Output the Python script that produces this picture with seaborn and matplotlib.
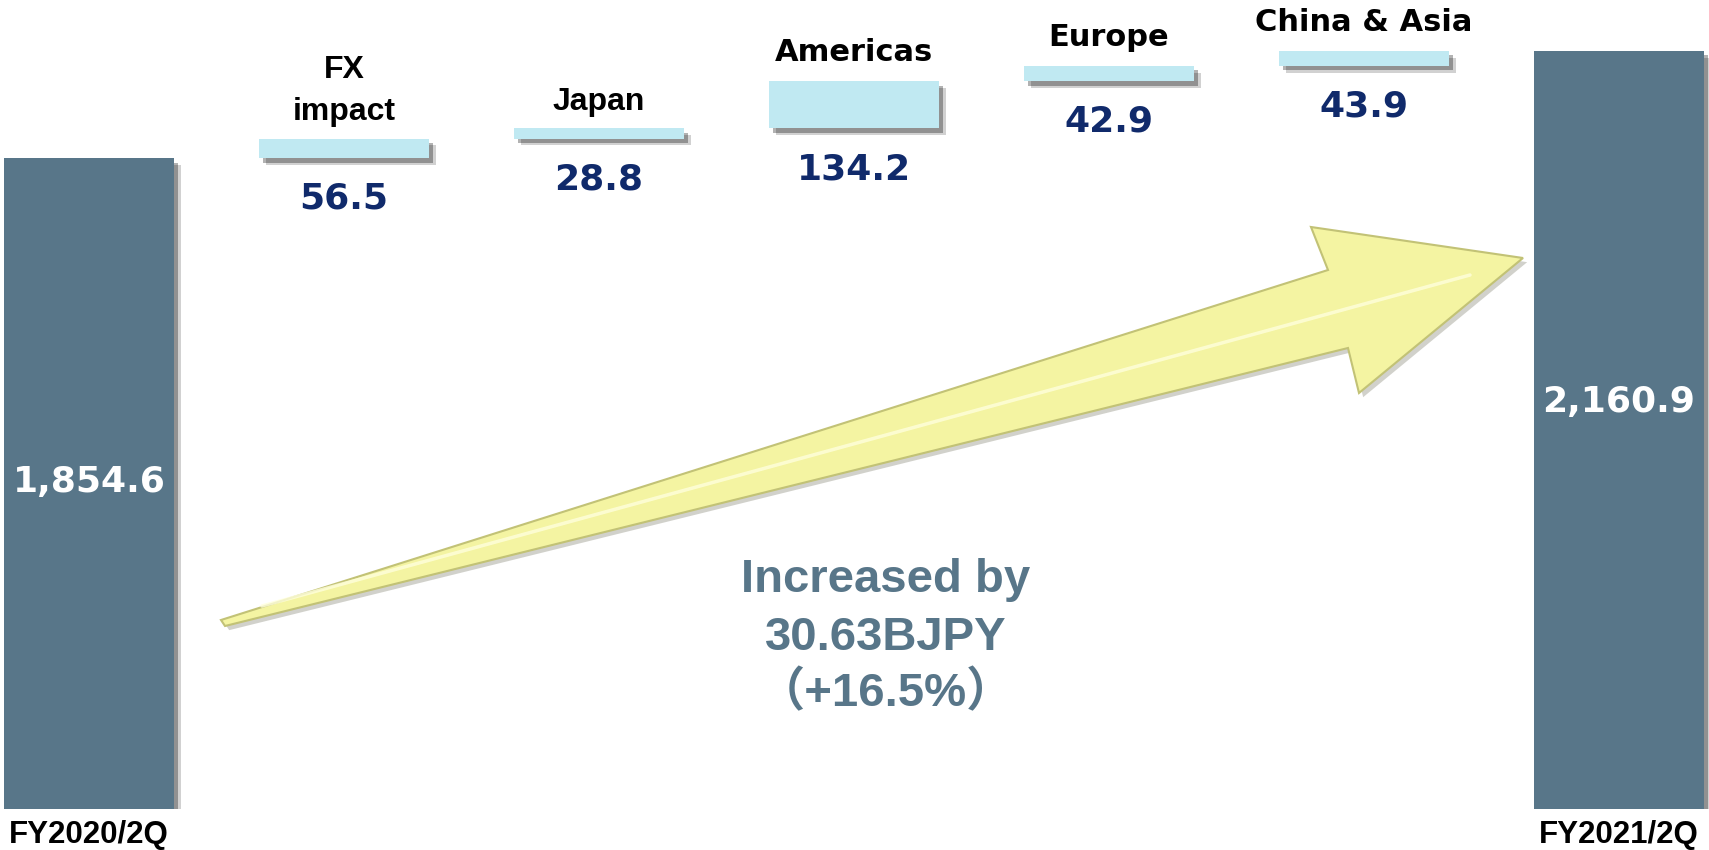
import numpy as np
import pandas as pd
import matplotlib
matplotlib.use("Agg")
import matplotlib.pyplot as plt
import matplotlib.patheffects as pe
from matplotlib.patches import Polygon
import seaborn as sns

# values in 100M JPY
periods = ["FY2020/2Q", "FY2021/2Q"]
period_values = [1854.6, 2160.9]
drivers = ["FX\nimpact", "Japan", "Americas", "Europe", "China & Asia"]
driver_values = [56.5, 28.8, 134.2, 42.9, 43.9]
note_lines = ["Increased by", "30.63BJPY", "（+16.5%）"]

order = [periods[0]] + drivers + [periods[1]]
starts = period_values[0] + np.concatenate([[0], np.cumsum(driver_values)[:-1]])

totals = pd.DataFrame({"item": periods, "value": period_values})
steps = pd.DataFrame({"item": drivers, "value": driver_values, "start": starts})

# styling / layout
c_total = "#587689"
c_step = "#C0E9F2"
c_num = "#102A6B"
label_fonts = ["Liberation Sans", "Liberation Sans", "DejaVu Sans", "DejaVu Sans", "DejaVu Sans"]
label_sizes = [23, 23, 22, 22, 22]
label_gap = [8, 8, 10, 10, 10]
total_label_pos = [0.503, 0.537]   # fraction of bar height for the white number
W, H = 1709, 850

sns.set_theme(style="white")
plt.rcParams["font.family"] = ["DejaVu Sans"]

fig = plt.figure(figsize=(W / 100, H / 100), dpi=100)
ax = fig.add_axes([0, 41 / H, 1, 809 / H])

sns.barplot(data=totals, x="item", y="value", order=order, color=c_total,
            saturation=1, width=0.667, errorbar=None, linewidth=0, ax=ax)
sns.barplot(data=steps, x="item", y="value", order=order, color=c_step,
            saturation=1, width=0.667, errorbar=None, linewidth=0,
            bottom=steps["start"].values, ax=ax)

shadow = [pe.SimplePatchShadow(offset=(5, -5), shadow_rgbFace="black", alpha=0.18),
          pe.SimplePatchShadow(offset=(3, -3), shadow_rgbFace="black", alpha=0.3),
          pe.Normal()]
for p in ax.patches:
    p.set_path_effects(shadow)

# driver labels
for i, (name, v, s) in enumerate(zip(drivers, driver_values, starts)):
    x = order.index(name)
    ax.annotate(name, (x, s + v), xytext=(0, label_gap[i]), textcoords="offset points",
                ha="center", va="bottom", fontsize=label_sizes[i], family=label_fonts[i],
                weight="bold", color="black", linespacing=1.55)
    ax.annotate(f"{v:.1f}", (x, s), xytext=(0, -17), textcoords="offset points",
                ha="center", va="top", fontsize=26, weight="bold", color=c_num)

# totals
for name, v, f in zip(periods, period_values, total_label_pos):
    ax.text(order.index(name), v * f, f"{v:,.1f}", ha="center", va="center",
            color="white", fontsize=26, weight="bold")

ax.set_xlim(-0.349, 6.353)
ax.set_ylim(0, 2306)
ax.set_xticks([0, 6])
ax.set_xticklabels(periods, fontsize=22.5, family="Liberation Sans", weight="bold", color="black")
ax.tick_params(axis="x", length=0, pad=8)
ax.set_yticks([])
ax.set_xlabel("")
ax.set_ylabel("")
for sp in ax.spines.values():
    sp.set_visible(False)

# yellow arrow (decoration, figure pixels)
arrow_px = [(221, 620), (1328, 270), (1311, 227), (1523, 258), (1359, 393), (1348, 348), (225, 626)]
arrow = Polygon([(x / W, 1 - y / H) for x, y in arrow_px], closed=True,
                transform=fig.transFigure, facecolor="#F4F4A2", edgecolor="#C2C276", lw=1.5,
                path_effects=[pe.SimplePatchShadow(offset=(3, -3), alpha=0.25), pe.Normal()])
fig.add_artist(arrow)
fig.add_artist(plt.Line2D([262 / W, 1470 / W], [1 - 606 / H, 1 - 275 / H], transform=fig.transFigure,
                          color="#FFFFDC", lw=2.5, alpha=0.8, solid_capstyle="round"))

for line, y in zip(note_lines, [592, 650, 706]):
    fig.text(886 / W, 1 - y / H, line, ha="center", va="baseline", fontsize=34, weight="bold",
             color=c_total, family=["Liberation Sans", "Noto Sans CJK JP"])

fig.savefig("out.png", dpi=100)
